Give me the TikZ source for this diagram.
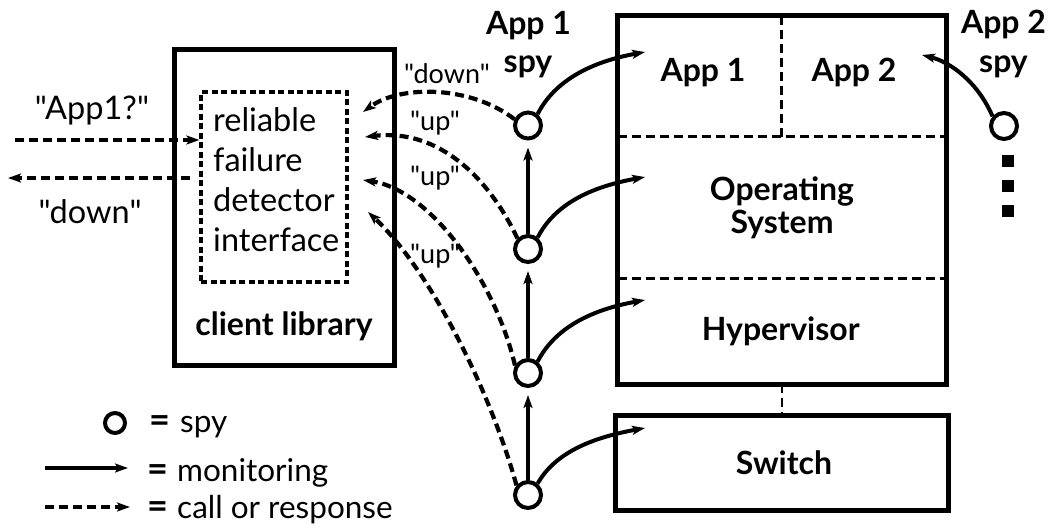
\documentclass[tikz,border=0pt]{standalone}
\usepackage{fontspec}
\setmainfont{Lato}[Ligatures=TeXOff]
\usetikzlibrary{arrows.meta}

\tikzset{
  tip/.style={-{Stealth[length=13pt,width=9pt,inset=3pt]}},
  box/.style={draw, line width=5pt, inner sep=0pt, outer sep=0pt},
  spy/.style={circle, draw, line width=4pt, minimum size=26pt, inner sep=0pt},
  mon/.style={line width=4pt, tip},
  call/.style={line width=4.2pt, dash pattern=on 9pt off 5pt, tip},
  divider/.style={line width=2.6pt, dash pattern=on 9pt off 5pt},
  txt/.style={font=\fontsize{32.5}{40}\selectfont, inner sep=0pt},
  keytxt/.style={font=\fontsize{31.5}{40}\selectfont, inner sep=0pt},
  small/.style={font=\fontsize{27}{30}\selectfont, inner sep=0pt},
  bold/.style={font=\fontsize{32}{36}\selectfont\bfseries, inner sep=0pt},
  eq/.style={font=\fontsize{36}{40}\selectfont\bfseries, inner sep=0pt},
  dot/.style={fill, minimum size=12pt, inner sep=0pt},
}

\begin{document}
\begin{tikzpicture}[x=1pt, y=-1pt]
\useasboundingbox (0,0) rectangle (1052,531);

% client library with the failure detector interface inside
\node[box, minimum width=220pt, minimum height=316pt] (client) at (284.5,207.5) {};
\node[draw, line width=3.2pt, dash pattern=on 6pt off 3.5pt, inner sep=0pt,
      minimum width=146pt, minimum height=190pt] (fd) at (274,187) {};
\node[txt, anchor=base west] (l1) at (213,131.7) {reliable};
\node[txt, anchor=base west] (l2) at (213,171.7) {failure};
\node[txt, anchor=base west] (l3) at (213,211.7) {detector};
\node[txt, anchor=base west] (l4) at (213,251.7) {interface};
\node[bold, anchor=base] (clientlbl) at (284,335) {client library};

% query and answer at the interface
\coordinate (qin) at (15,140);
\coordinate (qout) at (8,178);
\draw[call] (qin) -- (qin -| fd.west);
\draw[call] ([xshift=-9pt]qout -| fd.west) -- (qout);
\node[txt, anchor=base] (qlbl) at (92,119.3) {"App1?"};
\node[txt, anchor=base] (albl) at (90,223) {"down"};

% machine stack
\node[box, minimum width=329pt, minimum height=368.5pt] (host) at (782,199.75) {};
\node[box, minimum width=332.5pt, minimum height=95pt] (switch) at (781.75,463) {};
\coordinate (d1) at (617.5,136.7);
\coordinate (d2) at (617.5,278.3);
\coordinate (dv) at (781.7,136.7);
\draw[divider] (d1) -- (d1 -| host.east);
\draw[divider] (d2) -- (d2 -| host.east);
\draw[divider] (dv) -- (dv |- host.north);
\draw[divider] (host.south) -- (host.south |- switch.north);

\node[bold, anchor=base] (app1) at (703,81.7) {App 1};
\node[bold, anchor=base] (app2) at (854,81.7) {App 2};
\node[bold, anchor=base] (os1) at (782,200) {Operating};
\node[bold, anchor=base] (os2) at (782,233) {System};
\node[bold, anchor=base] (hyp) at (780.7,340.7) {Hypervisor};
\node[bold, anchor=base] (sw) at (784,474) {Switch};

% spies
\node[spy] (s1) at (528,125.5) {};
\node[spy] (s2) at (528,249) {};
\node[spy] (s3) at (528,373) {};
\node[spy] (s4) at (528,495) {};
\node[bold, anchor=base] (sp1a) at (528.5,34) {App 1};
\node[bold, anchor=base] (sp1b) at (528,72) {spy};

\node[spy] (t1) at (1004,126) {};
\node[bold, anchor=base] (sp2a) at (1003.5,33) {App 2};
\node[bold, anchor=base] (sp2b) at (1003.5,72) {spy};
\node[dot] (dt1) at (1008,161) {};
\node[dot] (dt2) at (1008,186) {};
\node[dot] (dt3) at (1008,211) {};

% monitoring links
\draw[mon, shorten >=7pt] (s4.north) -- (s3.south);
\draw[mon, shorten >=7pt] (s3.north) -- (s2.south);
\draw[mon, shorten >=7pt] (s2.north) -- (s1.south);

\coordinate (m1) at (645,52);
\coordinate (m2) at (645,177);
\coordinate (m3) at (645,300);
\coordinate (m4) at (645,428);
\draw[mon] (s1.50) .. controls +(17,-33) and +(-55,10) .. (m1);
\draw[mon] (s2.50) .. controls +(17,-33) and +(-55,10) .. (m2);
\draw[mon] (s3.50) .. controls +(17,-33) and +(-55,10) .. (m3);
\draw[mon] (s4.50) .. controls +(17,-30) and +(-55,10) .. (m4);

\coordinate (m5) at (922,55);
\draw[mon] (t1.140) .. controls +(-15,-35) and +(28,7) .. (m5);

% answers from the spies to the interface
\coordinate (r1) at (363,112);
\coordinate (r2) at (365,137);
\coordinate (r3) at (363,180);
\coordinate (r4) at (368,212);
\draw[call] (s1.155) .. controls (470,85) and (400,85) .. (r1);
\draw[call] (s2.135) .. controls (490,180) and (440,128) .. (r2);
\draw[call] (s3.150) .. controls (495,280) and (430,190) .. (r3);
\draw[call] (s4.140) .. controls (490,390) and (430,270) .. (r4);

\node[small, anchor=base] (rl1) at (447,83.3) {"down"};
\node[small, anchor=base] (rl2) at (435,130) {"up"};
\node[small, anchor=base] (rl3) at (435,185) {"up"};
\node[small, anchor=base] (rl4) at (435,263) {"up"};

% legend
\node[spy, minimum size=20pt] (ks) at (115,423) {};
\node[eq, anchor=base west] (ke1) at (149,432) {=};
\node[keytxt, anchor=base west] (kt1) at (180,432) {spy};
\coordinate (km1) at (45,468);
\coordinate (km2) at (128,468);
\draw[mon] (km1) -- (km2);
\node[eq, anchor=base west] (ke2) at (147,481.7) {=};
\node[keytxt, anchor=base west] (kt2) at (177,481.7) {monitoring};
\coordinate (kc1) at (45,507);
\coordinate (kc2) at (130,507);
\draw[call] (kc1) -- (kc2);
\node[eq, anchor=base west] (ke3) at (147,518) {=};
\node[keytxt, anchor=base west] (kt3) at (177,518) {call or response};
\end{tikzpicture}
\end{document}
